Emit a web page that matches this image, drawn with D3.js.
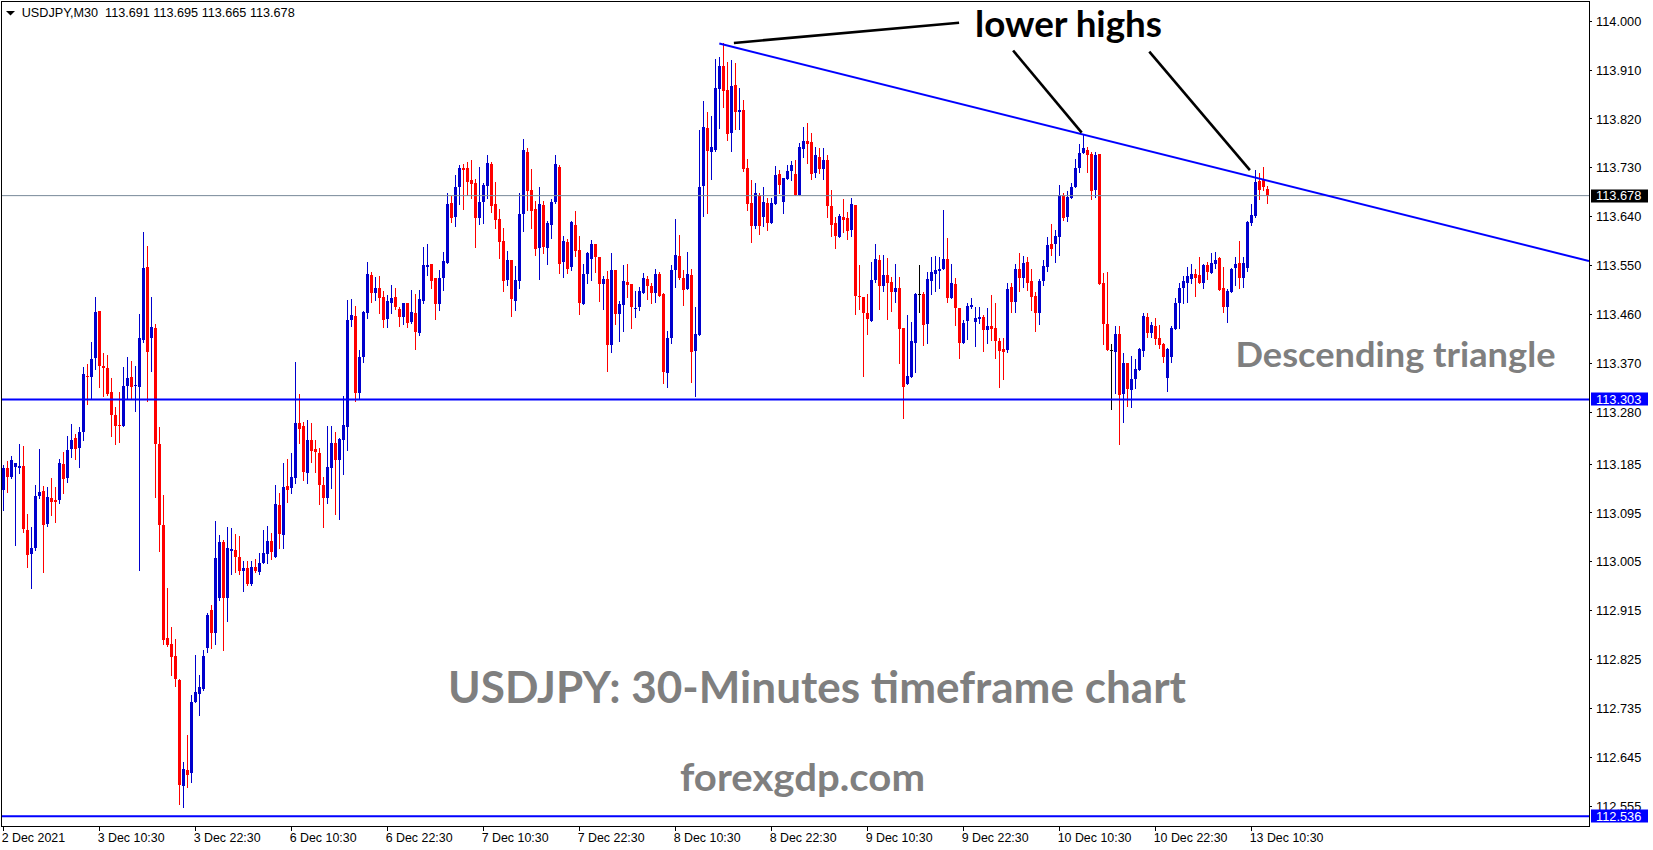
<!DOCTYPE html>
<html><head><meta charset="utf-8">
<script src="https://cdn.jsdelivr.net/npm/d3@7"></script>
<style>html,body{margin:0;padding:0;background:#fff;overflow:hidden}</style>
</head><body><svg id="c" width="1653" height="850"></svg>
<script>
// ---------------- DATA ----------------
const symbol = "USDJPY,M30";
const open = [113.136,113.177,113.160,113.179,113.177,113.181,113.063,113.019,113.030,113.125,
113.135,113.074,113.122,113.118,113.118,113.184,113.158,113.212,113.232,113.214,
113.243,113.346,113.344,113.379,113.466,113.365,113.361,113.317,113.274,113.256,
113.254,113.328,113.344,113.328,113.326,113.412,113.547,113.416,113.434,113.221,
113.072,112.864,112.853,112.831,112.787,112.592,112.621,112.616,112.746,112.761,
112.770,112.846,112.916,112.873,112.938,113.041,112.938,113.024,113.026,113.013,
112.987,112.993,112.963,112.995,112.986,113.002,113.019,113.043,113.013,113.109,
113.054,113.144,113.140,113.158,113.260,113.254,113.168,113.228,113.212,113.205,
113.146,113.122,113.177,113.223,113.192,113.228,113.252,113.449,113.457,113.315,
113.381,113.462,113.532,113.499,113.508,113.492,113.451,113.480,113.492,113.469,
113.455,113.480,113.446,113.462,113.425,113.484,113.547,113.552,113.526,113.479,
113.526,113.554,113.665,113.639,113.694,113.729,113.729,113.707,113.701,113.637,
113.666,113.696,113.736,113.663,113.635,113.595,113.523,113.560,113.484,113.521,
113.644,113.758,113.688,113.654,113.582,113.661,113.582,113.624,113.666,113.731,
113.556,113.593,113.547,113.624,113.578,113.479,113.534,113.562,113.589,113.565,
113.515,113.525,113.403,113.541,113.460,113.477,113.519,113.515,113.469,113.473,
113.499,113.525,113.512,113.499,113.534,113.497,113.352,113.416,113.541,113.567,
113.526,113.506,113.532,113.392,113.422,113.696,113.802,113.758,113.762,113.874,
113.917,113.872,113.793,113.882,113.832,113.836,113.729,113.665,113.622,113.679,
113.639,113.665,113.628,113.663,113.718,113.666,113.709,113.723,113.718,113.679,
113.764,113.779,113.777,113.720,113.749,113.727,113.744,113.659,113.628,113.602,
113.639,113.637,113.615,113.661,113.493,113.492,113.462,113.447,113.523,113.560,
113.512,113.532,113.519,113.501,113.508,113.434,113.331,113.344,113.407,113.497,
113.497,113.442,113.521,113.534,113.539,113.543,113.562,113.490,113.515,113.471,
113.407,113.447,113.473,113.446,113.451,113.455,113.431,113.438,113.434,113.411,
113.396,113.394,113.510,113.482,113.543,113.526,113.556,113.521,113.493,113.462,
113.521,113.547,113.589,113.589,113.602,113.679,113.639,113.674,113.694,113.729,
113.756,113.762,113.755,113.688,113.755,113.517,113.442,113.394,113.390,113.423,
113.313,113.370,113.320,113.341,113.357,113.392,113.455,113.425,113.438,113.416,
113.405,113.342,113.381,113.433,113.480,113.508,113.517,113.525,113.534,113.532,
113.517,113.550,113.536,113.552,113.563,113.508,113.473,113.501,113.545,113.554,
113.526,113.545,113.628,113.641,113.705,113.707,113.691];
const high = [113.182,113.190,113.199,113.186,113.221,113.217,113.092,113.068,113.146,113.212,
113.144,113.142,113.158,113.142,113.193,113.206,113.236,113.258,113.239,113.252,
113.363,113.368,113.409,113.492,113.466,113.388,113.385,113.342,113.289,113.317,
113.363,113.381,113.374,113.365,113.460,113.611,113.585,113.492,113.442,113.252,
113.127,112.956,112.884,112.862,112.789,112.636,112.686,112.759,112.833,112.796,
112.842,112.910,112.925,113.079,113.054,113.044,113.068,113.066,113.055,113.052,
113.006,113.006,113.006,113.009,113.020,113.063,113.070,113.057,113.146,113.131,
113.186,113.193,113.205,113.372,113.313,113.262,113.265,113.260,113.228,113.214,
113.160,113.254,113.254,113.243,113.232,113.309,113.486,113.488,113.475,113.394,
113.466,113.556,113.538,113.528,113.530,113.503,113.495,113.514,113.508,113.473,
113.480,113.480,113.504,113.497,113.504,113.583,113.589,113.552,113.526,113.541,
113.574,113.683,113.677,113.716,113.734,113.736,113.740,113.744,113.709,113.731,
113.701,113.753,113.740,113.703,113.654,113.618,113.576,113.560,113.549,113.683,
113.782,113.766,113.727,113.668,113.694,113.668,113.631,113.672,113.753,113.734,
113.604,113.598,113.631,113.650,113.604,113.552,113.574,113.596,113.589,113.565,
113.530,113.539,113.573,113.541,113.484,113.550,113.552,113.515,113.503,113.510,
113.536,113.530,113.517,113.543,113.538,113.499,113.429,113.550,113.635,113.606,
113.541,113.574,113.543,113.473,113.799,113.852,113.832,113.825,113.929,113.933,
113.959,113.924,113.928,113.922,113.876,113.854,113.745,113.707,113.701,113.683,
113.694,113.674,113.674,113.733,113.725,113.710,113.734,113.742,113.744,113.775,
113.804,113.812,113.793,113.768,113.766,113.766,113.753,113.688,113.639,113.644,
113.672,113.648,113.674,113.661,113.550,113.492,113.497,113.556,113.589,113.569,
113.569,113.563,113.528,113.552,113.528,113.434,113.458,113.446,113.499,113.550,
113.501,113.538,113.565,113.567,113.565,113.652,113.600,113.552,113.526,113.471,
113.449,113.480,113.490,113.473,113.473,113.458,113.471,113.495,113.480,113.416,
113.416,113.517,113.517,113.552,113.573,113.567,113.565,113.543,113.501,113.525,
113.560,113.602,113.626,113.615,113.698,113.683,113.687,113.701,113.745,113.773,
113.790,113.768,113.758,113.758,113.755,113.536,113.538,113.405,113.438,113.438,
113.388,113.370,113.383,113.377,113.398,113.462,113.462,113.446,113.453,113.440,
113.407,113.398,113.438,113.490,113.517,113.530,113.547,113.552,113.543,113.565,
113.552,113.556,113.573,113.574,113.565,113.547,113.506,113.545,113.565,113.595,
113.565,113.631,113.663,113.725,113.720,113.731,113.695];
const low = [113.100,113.133,113.158,113.035,113.168,113.059,112.995,112.956,113.026,113.122,
112.986,113.070,113.090,113.078,113.112,113.131,113.151,113.197,113.193,113.179,
113.228,113.295,113.306,113.359,113.326,113.309,113.311,113.236,113.221,113.225,
113.254,113.306,113.306,113.282,112.989,113.409,113.300,113.355,113.124,113.024,
112.853,112.849,112.796,112.776,112.559,112.553,112.590,112.599,112.746,112.722,
112.768,112.838,112.846,112.853,112.934,112.842,112.895,112.982,112.986,112.982,
112.951,112.961,112.961,112.986,112.982,113.002,113.002,113.009,113.013,113.030,
113.030,113.114,113.131,113.149,113.223,113.155,113.149,113.188,113.170,113.111,
113.068,113.112,113.140,113.092,113.083,113.166,113.210,113.438,113.300,113.304,
113.372,113.453,113.482,113.486,113.462,113.436,113.436,113.462,113.469,113.438,
113.442,113.436,113.444,113.396,113.422,113.480,113.532,113.508,113.451,113.468,
113.504,113.554,113.630,113.622,113.663,113.654,113.679,113.674,113.583,113.626,
113.628,113.674,113.648,113.618,113.563,113.503,113.514,113.457,113.468,113.508,
113.613,113.652,113.618,113.569,113.525,113.573,113.552,113.600,113.665,113.536,
113.528,113.536,113.541,113.567,113.460,113.479,113.517,113.523,113.538,113.484,
113.469,113.355,113.390,113.442,113.411,113.429,113.492,113.434,113.455,113.468,
113.499,113.488,113.480,113.482,113.493,113.333,113.326,113.407,113.510,113.525,
113.477,113.506,113.335,113.309,113.422,113.641,113.646,113.709,113.760,113.802,
113.841,113.780,113.760,113.801,113.801,113.723,113.652,113.593,113.618,113.607,
113.622,113.615,113.628,113.663,113.683,113.646,113.709,113.707,113.679,113.679,
113.749,113.738,113.709,113.712,113.720,113.709,113.639,113.604,113.582,113.602,
113.611,113.598,113.604,113.460,113.469,113.346,113.423,113.447,113.519,113.469,
113.503,113.451,113.466,113.482,113.370,113.269,113.331,113.344,113.354,113.464,
113.403,113.407,113.497,113.503,113.508,113.543,113.482,113.490,113.440,113.379,
113.407,113.414,113.471,113.401,113.444,113.392,113.407,113.412,113.379,113.326,
113.341,113.390,113.464,113.464,113.503,113.510,113.504,113.468,113.429,113.442,
113.514,113.539,113.569,113.556,113.569,113.633,113.631,113.674,113.694,113.722,
113.756,113.722,113.672,113.676,113.515,113.405,113.394,113.285,113.315,113.221,
113.262,113.291,113.289,113.324,113.357,113.383,113.418,113.418,113.405,113.398,
113.372,113.319,113.372,113.433,113.434,113.480,113.482,113.517,113.493,113.517,
113.508,113.525,113.536,113.545,113.504,113.464,113.446,113.501,113.514,113.508,
113.510,113.539,113.624,113.639,113.672,113.688,113.665];
const close = [113.177,113.160,113.192,113.186,113.181,113.065,113.017,113.030,113.125,113.133,
113.072,113.123,113.114,113.114,113.186,113.157,113.210,113.228,113.212,113.243,
113.350,113.344,113.377,113.464,113.365,113.361,113.313,113.274,113.254,113.254,
113.328,113.342,113.326,113.330,113.416,113.545,113.390,113.436,113.221,113.072,
112.860,112.851,112.829,112.789,112.594,112.623,112.612,112.746,112.765,112.774,
112.831,112.906,112.873,113.011,113.041,112.938,113.030,113.028,113.013,112.987,
112.993,112.963,112.995,112.987,113.002,113.020,113.043,113.022,113.111,113.055,
113.142,113.136,113.160,113.260,113.249,113.170,113.228,113.208,113.206,113.146,
113.122,113.179,113.223,113.192,113.230,113.256,113.449,113.458,113.315,113.381,
113.464,113.534,113.499,113.508,113.490,113.449,113.484,113.490,113.473,113.455,
113.480,113.444,113.464,113.427,113.488,113.550,113.550,113.521,113.479,113.526,
113.558,113.663,113.637,113.694,113.729,113.725,113.703,113.699,113.637,113.666,
113.698,113.738,113.659,113.633,113.593,113.521,113.560,113.488,113.523,113.644,
113.762,113.687,113.650,113.580,113.663,113.583,113.628,113.666,113.736,113.552,
113.595,113.543,113.630,113.576,113.480,113.534,113.573,113.589,113.565,113.515,
113.525,113.403,113.541,113.460,113.479,113.521,113.514,113.473,113.471,113.503,
113.526,113.512,113.499,113.534,113.493,113.354,113.416,113.541,113.569,113.526,
113.504,113.534,113.390,113.423,113.694,113.804,113.760,113.768,113.876,113.917,
113.871,113.791,113.880,113.832,113.836,113.727,113.663,113.622,113.683,113.622,
113.666,113.628,113.665,113.716,113.698,113.710,113.723,113.734,113.679,113.768,
113.779,113.773,113.718,113.753,113.727,113.744,113.659,113.624,113.604,113.641,
113.633,113.613,113.663,113.493,113.492,113.462,113.451,113.523,113.562,113.512,
113.532,113.517,113.501,113.508,113.433,113.326,113.346,113.411,113.497,113.497,
113.440,113.525,113.538,113.541,113.543,113.562,113.490,113.517,113.471,113.407,
113.444,113.475,113.477,113.453,113.455,113.431,113.438,113.433,113.411,113.392,
113.390,113.506,113.482,113.543,113.526,113.554,113.517,113.492,113.462,113.521,
113.549,113.587,113.580,113.604,113.679,113.637,113.675,113.694,113.729,113.756,
113.766,113.753,113.687,113.753,113.515,113.442,113.394,113.394,113.423,113.311,
113.370,113.322,113.341,113.359,113.396,113.457,113.425,113.440,113.414,113.403,
113.381,113.396,113.434,113.480,113.508,113.521,113.530,113.534,113.526,113.517,
113.550,113.538,113.554,113.560,113.504,113.473,113.503,113.543,113.552,113.526,
113.554,113.630,113.642,113.703,113.688,113.694,113.678];

const timeLabels = ["2 Dec 2021","3 Dec 10:30","3 Dec 22:30","6 Dec 10:30","6 Dec 22:30",
  "7 Dec 10:30","7 Dec 22:30","8 Dec 10:30","8 Dec 22:30","9 Dec 10:30","9 Dec 22:30",
  "10 Dec 10:30","10 Dec 22:30","13 Dec 10:30"];
const timeLabelBars = [0,24,48,72,96,120,144,168,192,216,240,264,288,312];
const priceTicks = [114.000,113.910,113.820,113.730,113.640,113.550,113.460,113.370,113.280,
  113.185,113.095,113.005,112.915,112.825,112.735,112.645,112.555];
const supportLevel = 113.303;
const bottomLevel = 112.536;
const bidPrice = 113.678;
// trendline anchors: [bar index, price]
const trendBars = [179.15, 316];
const trendPrices = [113.958, 113.706];
// pointer lines: [bar0, price0, bar1, price1]
const pointerBars0 = [182.8, 252.6, 286.65];
const pointerPrices0 = [113.959, 113.945, 113.943];
const pointerBars1 = [239.1, 269.75, 311.8];
const pointerPrices1 = [113.996, 113.794, 113.725];

// ---------------- LAYOUT ----------------
const W = 1653, H = 850;
const L = 2, R = 1589, T = 2, B = 826;
const N = close.length;
const barStep = 4;
const bullColor = "#0000cd", bearColor = "#ff0000", dojiColor = "#000000";
const lineBlue = "#0000ff";
const labelFont = "'Liberation Sans', Arial, sans-serif";
const bigFont = "Lato, 'Open Sans', sans-serif";

const svg = d3.select("#c");
svg.append("rect").attr("width", W).attr("height", H).attr("fill", "#fff");

const x = d3.scaleLinear().domain([0, N - 1]).range([2.7, 2.7 + barStep * (N - 1)]);
const y = d3.scaleLinear().domain([112.518, 114.038]).range([B, 0]);

svg.append("clipPath").attr("id", "plotclip")
  .append("rect").attr("x", L).attr("y", T).attr("width", R - L).attr("height", B - T);

const plot = svg.append("g").attr("clip-path", "url(#plotclip)");

// candles
const bars = d3.range(N).map(i => ({i, o: open[i], h: high[i], l: low[i], c: close[i]}));
const col = d => d.c > d.o ? bullColor : (d.c < d.o ? bearColor : dojiColor);
const cg = plot.append("g").attr("shape-rendering", "crispEdges");
cg.selectAll("rect.wick").data(bars).join("rect").attr("class", "wick")
  .attr("x", d => Math.round(x(d.i)))
  .attr("y", d => Math.round(y(d.h)))
  .attr("width", 1)
  .attr("height", d => Math.max(1, Math.round(y(d.l)) - Math.round(y(d.h)) + 1))
  .attr("fill", col);
cg.selectAll("rect.body").data(bars).join("rect").attr("class", "body")
  .attr("x", d => Math.round(x(d.i)) - 1)
  .attr("y", d => Math.round(y(Math.max(d.o, d.c))))
  .attr("width", 3)
  .attr("height", d => Math.max(1, Math.round(y(Math.min(d.o, d.c))) - Math.round(y(Math.max(d.o, d.c)))))
  .attr("fill", col);

// horizontal lines
plot.append("line").attr("x1", L).attr("x2", R)
  .attr("y1", y(bidPrice)).attr("y2", y(bidPrice))
  .attr("stroke", "#778899").attr("stroke-width", 1);
[supportLevel, bottomLevel].forEach(p => {
  plot.append("line").attr("x1", L).attr("x2", R)
    .attr("y1", y(p)).attr("y2", y(p))
    .attr("stroke", lineBlue).attr("stroke-width", 2);
});

// trendline (ray to the right edge)
const slope = (trendPrices[1] - trendPrices[0]) / (trendBars[1] - trendBars[0]);
const endBar = x.invert(R);
plot.append("line")
  .attr("x1", x(trendBars[0])).attr("y1", y(trendPrices[0]))
  .attr("x2", x(endBar)).attr("y2", y(trendPrices[0] + slope * (endBar - trendBars[0])))
  .attr("stroke", lineBlue).attr("stroke-width", 2);

// pointer lines
pointerBars0.forEach((b, k) => {
  plot.append("line")
    .attr("x1", x(b)).attr("y1", y(pointerPrices0[k]))
    .attr("x2", x(pointerBars1[k])).attr("y2", y(pointerPrices1[k]))
    .attr("stroke", "#000").attr("stroke-width", 2.6);
});

// frame
svg.append("rect").attr("x", 1.5).attr("y", 1.5).attr("width", R - 1.5).attr("height", B - 1)
  .attr("fill", "none").attr("stroke", "#000").attr("stroke-width", 1).attr("shape-rendering", "crispEdges");

// y axis
const yAxis = svg.append("g").attr("transform", `translate(${R},0)`)
  .call(d3.axisRight(y).tickValues(priceTicks).tickSize(3).tickPadding(4).tickFormat(d3.format(".3f")));
yAxis.select(".domain").remove();
yAxis.selectAll("line").attr("stroke", "#000").attr("shape-rendering", "crispEdges");
yAxis.selectAll("text").attr("font-family", labelFont).attr("font-size", 12.8).attr("fill", "#000")
  .attr("dy", "0.36em");

// x axis
const xAxis = svg.append("g").attr("transform", `translate(0,${B})`)
  .call(d3.axisBottom(x).tickValues(timeLabelBars).tickSize(5).tickFormat((d, i) => timeLabels[i]));
xAxis.select(".domain").remove();
xAxis.selectAll("line").attr("stroke", "#000").attr("shape-rendering", "crispEdges");
xAxis.selectAll("text").attr("font-family", labelFont).attr("font-size", 12.4).attr("fill", "#000")
  .attr("text-anchor", "start").attr("x", -1.5).attr("y", 16).attr("dy", null);

// price label boxes
[[bidPrice, "#000"], [supportLevel, lineBlue], [bottomLevel, lineBlue]].forEach(([p, c]) => {
  svg.append("rect").attr("x", R + 2).attr("y", Math.round(y(p)) - 6.5).attr("width", 57).attr("height", 13)
    .attr("fill", c);
  svg.append("text").attr("x", R + 7).attr("y", y(p)).attr("dy", "0.36em")
    .attr("font-family", labelFont).attr("font-size", 12.8).attr("fill", "#fff")
    .text(d3.format(".3f")(p));
});

// header
svg.append("path").attr("d", "M6,11 L15,11 L10.5,15.5 Z").attr("fill", "#000");
const last = N - 1;
svg.append("text").attr("x", 21.7).attr("y", 17.3)
  .attr("font-family", labelFont).attr("font-size", 12).attr("fill", "#000")
  .attr("xml:space", "preserve").style("white-space", "pre")
  .attr("textLength", 273).attr("lengthAdjust", "spacingAndGlyphs")
  .text(`${symbol}  ${open[last].toFixed(3)} ${high[last].toFixed(3)} ${low[last].toFixed(3)} ${close[last].toFixed(3)}`);

// annotations
const ann = [
  {t: "lower highs", x: 975, y: 36.7, size: 36, w: 187, c: "#000"},
  {t: "Descending triangle", x: 1235.5, y: 367, size: 34, w: 320, c: "#7f7f7f"},
  {t: "USDJPY: 30-Minutes timeframe chart", x: 448, y: 703, size: 44, w: 738, c: "#7f7f7f"},
  {t: "forexgdp.com", x: 680, y: 791, size: 38, w: 245, c: "#7f7f7f"}
];
ann.forEach(a => {
  svg.append("text").attr("x", a.x).attr("y", a.y)
    .attr("font-family", bigFont).attr("font-weight", "bold").attr("font-size", a.size)
    .attr("fill", a.c).attr("textLength", a.w).attr("lengthAdjust", "spacingAndGlyphs")
    .text(a.t);
});
</script></body></html>
